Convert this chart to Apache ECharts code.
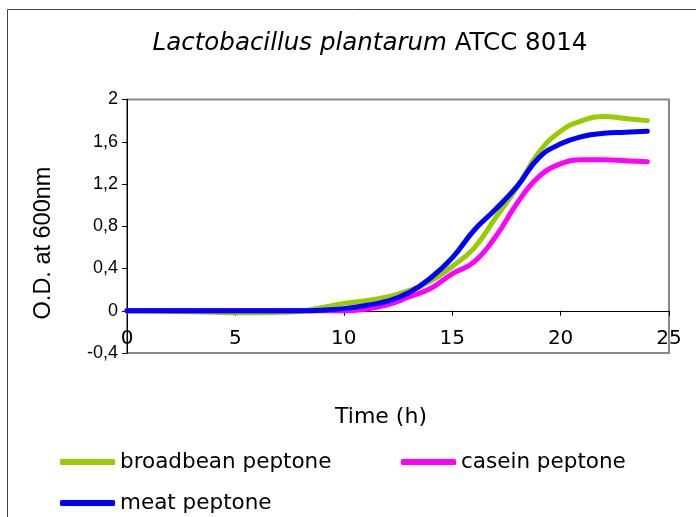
<!DOCTYPE html>
<html>
<head>
<meta charset="utf-8">
<script src="https://cdn.jsdelivr.net/npm/echarts@6/dist/echarts.min.js"></script>
<style>html,body{margin:0;padding:0;background:#fff}#c{width:696px;height:517px}</style>
</head>
<body>
<div id="c"></div>
<script>
const hours = [0,1,2,3,4,5,6,7,8,9,10,11,12,13,14,15,16,17,18,19,20,21,22,23,24];
const broadbean = [0,0,-0.005,-0.01,-0.015,-0.02,-0.02,-0.015,-0.005,0.03,0.07,0.095,0.13,0.19,0.28,0.42,0.59,0.88,1.17,1.50,1.70,1.80,1.84,1.82,1.80];
const casein    = [0,0,0,0,0,0,0,0,0,0,0.0,0.015,0.055,0.13,0.21,0.35,0.46,0.70,1.02,1.27,1.39,1.43,1.43,1.42,1.41];
const meat      = [0,0,0,0,0,0,0,0,0,0.005,0.02,0.05,0.09,0.17,0.31,0.50,0.76,0.96,1.18,1.45,1.58,1.65,1.68,1.69,1.70];
const seriesNames = ['broadbean peptone','casein peptone','meat peptone'];
const seriesColors = ['#99CC00','#FF00FF','#0000FF'];
const xTicks = {min:0, max:25, interval:5};
const yTicks = {min:-0.4, max:2, interval:0.4};

const chart = echarts.init(document.getElementById('c'));
const pair = arr => hours.map((h,i)=>[h, arr[i]]);
const datas = [broadbean, casein, meat];
const legendPos = [{left:60, top:451},{left:401, top:451},{left:60, top:492}];
const gridTop = 99.5, gridBottom = 164, chartH = 517;
const gridH = chartH - gridTop - gridBottom;
// x axis line sits at y = 0
const zeroOffset = -gridH * (0 - yTicks.min) / (yTicks.max - yTicks.min);

chart.setOption({
  animation:false,
  title:{
    text:'{i|Lactobacillus plantarum} ATCC 8014',
    left:370, top:31, textAlign:'center', padding:0,
    textStyle:{fontFamily:'DejaVu Sans', fontSize:24.5, fontWeight:'normal', color:'#000',
      rich:{i:{fontFamily:'DejaVu Sans', fontSize:24.5, fontStyle:'italic', color:'#000'}}}
  },
  grid:{left:127, right:27, top:gridTop, bottom:gridBottom, show:true, borderColor:'#888', borderWidth:2, backgroundColor:'transparent'},
  xAxis:{
    type:'value', min:xTicks.min, max:xTicks.max, interval:xTicks.interval,
    offset: zeroOffset,
    axisLine:{show:true, onZero:false, lineStyle:{color:'#000', width:1}},
    axisTick:{show:true, length:5, lineStyle:{color:'#000'}},
    splitLine:{show:false},
    axisLabel:{fontFamily:'DejaVu Sans', fontSize:20, color:'#000', margin:18}
  },
  yAxis:{
    type:'value', min:yTicks.min, max:yTicks.max, interval:yTicks.interval,
    axisLine:{show:true, onZero:false, lineStyle:{color:'#000', width:1}},
    axisTick:{show:true, length:5, lineStyle:{color:'#000'}},
    splitLine:{show:false},
    axisLabel:{fontFamily:'Liberation Sans', fontSize:18, color:'#000', margin:9,
      formatter: v => String(+(+v).toFixed(1)).replace('.', ',')}
  },
  legend: seriesNames.map((n,i)=>({
    data:[n], left:legendPos[i].left, top:legendPos[i].top, padding:0,
    itemWidth:55, itemHeight:6, icon:'roundRect', itemGap:0,
    textStyle:{fontFamily:'DejaVu Sans', fontSize:21.5, color:'#000'}
  })),
  series: seriesNames.map((n,i)=>({
    name:n, type:'line', data:pair(datas[i]), smooth:0.45, showSymbol:false,
    lineStyle:{color:seriesColors[i], width:5, cap:'round'}, itemStyle:{color:seriesColors[i]}
  })),
  graphic:[
    {type:'rect', shape:{x:7.5, y:9.5, width:700, height:520}, style:{fill:'none', stroke:'#444', lineWidth:1}, silent:true},
    {type:'text', x:44, y:243, rotation:Math.PI/2, style:{text:'O.D. at 600nm', font:'23.5px "Liberation Sans"', fill:'#000', align:'center', verticalAlign:'middle'}},
    {type:'text', x:381, y:417, style:{text:'Time (h)', font:'22px "DejaVu Sans"', fill:'#000', align:'center', verticalAlign:'middle'}}
  ]
});
</script>
</body>
</html>
